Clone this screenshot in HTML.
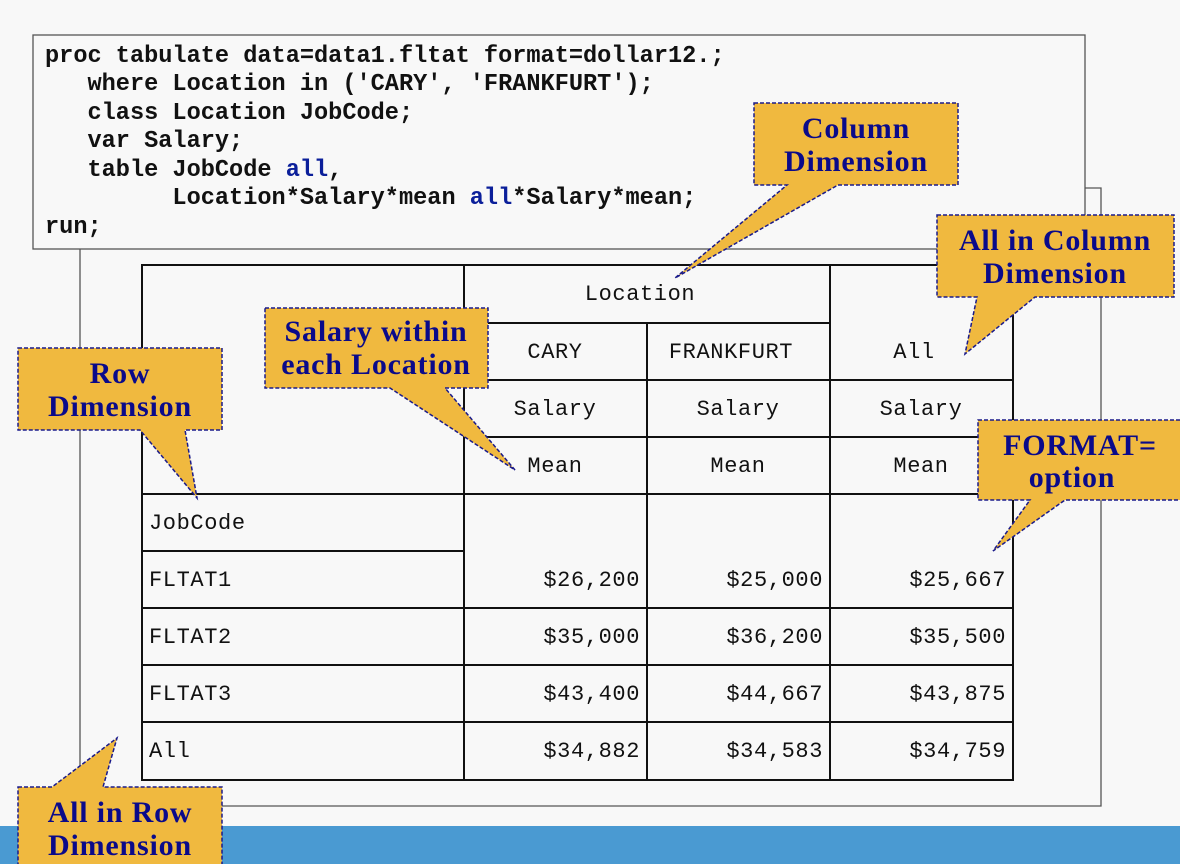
<!DOCTYPE html>
<html><head><meta charset="utf-8"><style>
html,body{margin:0;padding:0;background:#f8f8f8;}
svg{display:block}
.code{font-family:"Liberation Mono",monospace;font-weight:bold;font-size:23.6px;fill:#111;white-space:pre}
.kw{fill:#0b1f9a}
.t{font-family:"Liberation Mono",monospace;font-size:22px;letter-spacing:0.6px;fill:#111}
.c{font-family:"Liberation Serif",serif;font-weight:bold;font-size:30px;letter-spacing:0.8px;fill:#0a0a8a}
.cb{fill:#f0b93f;stroke:#1a1a8a;stroke-width:1.5;stroke-dasharray:4 2}
</style></head><body>
<svg width="1180" height="864" viewBox="0 0 1180 864" xml:space="preserve">
<rect x="0" y="0" width="1180" height="864" fill="#f8f8f8"/>
<rect x="0" y="826" width="1180" height="38" fill="#4a9ad2"/>
<path d="M1085 188 H1101 V806 H80 V249" fill="none" stroke="#555" stroke-width="1.3"/>
<rect x="33" y="35" width="1052" height="214" fill="#f8f8f8" stroke="#555" stroke-width="1.3"/>
<text class="code" x="45" y="62">proc tabulate data=data1.fltat format=dollar12.;</text>
<text class="code" x="45" y="90">   where Location in ('CARY', 'FRANKFURT');</text>
<text class="code" x="45" y="119">   class Location JobCode;</text>
<text class="code" x="45" y="147">   var Salary;</text>
<text class="code" x="45" y="176">   table JobCode <tspan class="kw">all</tspan>,</text>
<text class="code" x="45" y="204">         Location*Salary*mean <tspan class="kw">all</tspan>*Salary*mean;</text>
<text class="code" x="45" y="233">run;</text>
<g stroke="#111" stroke-width="2" fill="none">
<rect x="142" y="265" width="871" height="515"/>
<line x1="464" y1="265" x2="464" y2="780"/>
<line x1="830" y1="265" x2="830" y2="780"/>
<line x1="647" y1="323" x2="647" y2="780"/>
<line x1="464" y1="323" x2="830" y2="323"/>
<line x1="464" y1="380" x2="1013" y2="380"/>
<line x1="464" y1="437" x2="1013" y2="437"/>
<line x1="142" y1="494" x2="1013" y2="494"/>
<line x1="142" y1="551" x2="464" y2="551"/>
<line x1="142" y1="608" x2="1013" y2="608"/>
<line x1="142" y1="665" x2="1013" y2="665"/>
<line x1="142" y1="722" x2="1013" y2="722"/>
</g>
<g class="t" text-anchor="middle">
<text x="640" y="300">Location</text>
<text x="555" y="358">CARY</text><text x="731" y="358">FRANKFURT</text><text x="914" y="358">All</text>
<text x="555" y="415">Salary</text><text x="738" y="415">Salary</text><text x="921" y="415">Salary</text>
<text x="555" y="472">Mean</text><text x="738" y="472">Mean</text><text x="921" y="472">Mean</text>
</g>
<g class="t">
<text x="149" y="529">JobCode</text>
<text x="149" y="586">FLTAT1</text>
<text x="149" y="643">FLTAT2</text>
<text x="149" y="700">FLTAT3</text>
<text x="149" y="757">All</text>
</g>
<g class="t" text-anchor="end">
<text x="640" y="586">$26,200</text><text x="823" y="586">$25,000</text><text x="1006" y="586">$25,667</text>
<text x="640" y="643">$35,000</text><text x="823" y="643">$36,200</text><text x="1006" y="643">$35,500</text>
<text x="640" y="700">$43,400</text><text x="823" y="700">$44,667</text><text x="1006" y="700">$43,875</text>
<text x="640" y="757">$34,882</text><text x="823" y="757">$34,583</text><text x="1006" y="757">$34,759</text>
</g>
<path class="cb" d="M754 103 H958 V185 H838 L675 278 L787 185 H754 Z"/>
<text class="c" text-anchor="middle" x="856" y="138">Column</text>
<text class="c" text-anchor="middle" x="856" y="171">Dimension</text>
<path class="cb" d="M937 215 H1174 V297 H1035 L965 354 L977 297 H937 Z"/>
<text class="c" text-anchor="middle" x="1055" y="250">All in Column</text>
<text class="c" text-anchor="middle" x="1055" y="283">Dimension</text>
<path class="cb" d="M265 308 H488 V388 H445 L515 470 L390 388 H265 Z"/>
<text class="c" text-anchor="middle" x="376" y="341">Salary within</text>
<text class="c" text-anchor="middle" x="376" y="374">each Location</text>
<path class="cb" d="M18 348 H222 V430 H185 L197 498 L140 430 H18 Z"/>
<text class="c" text-anchor="middle" x="120" y="383">Row</text>
<text class="c" text-anchor="middle" x="120" y="416">Dimension</text>
<path class="cb" d="M978 420 H1182 V500 H1065 L993 551 L1030 500 H978 Z"/>
<text class="c" text-anchor="middle" x="1080" y="455">FORMAT=</text>
<text class="c" text-anchor="middle" x="1072" y="487">option</text>
<path class="cb" d="M18 787 H52 L117 738 L103 787 H222 V870 H18 Z"/>
<text class="c" text-anchor="middle" x="120" y="822">All in Row</text>
<text class="c" text-anchor="middle" x="120" y="855">Dimension</text>
</svg>
</body></html>
